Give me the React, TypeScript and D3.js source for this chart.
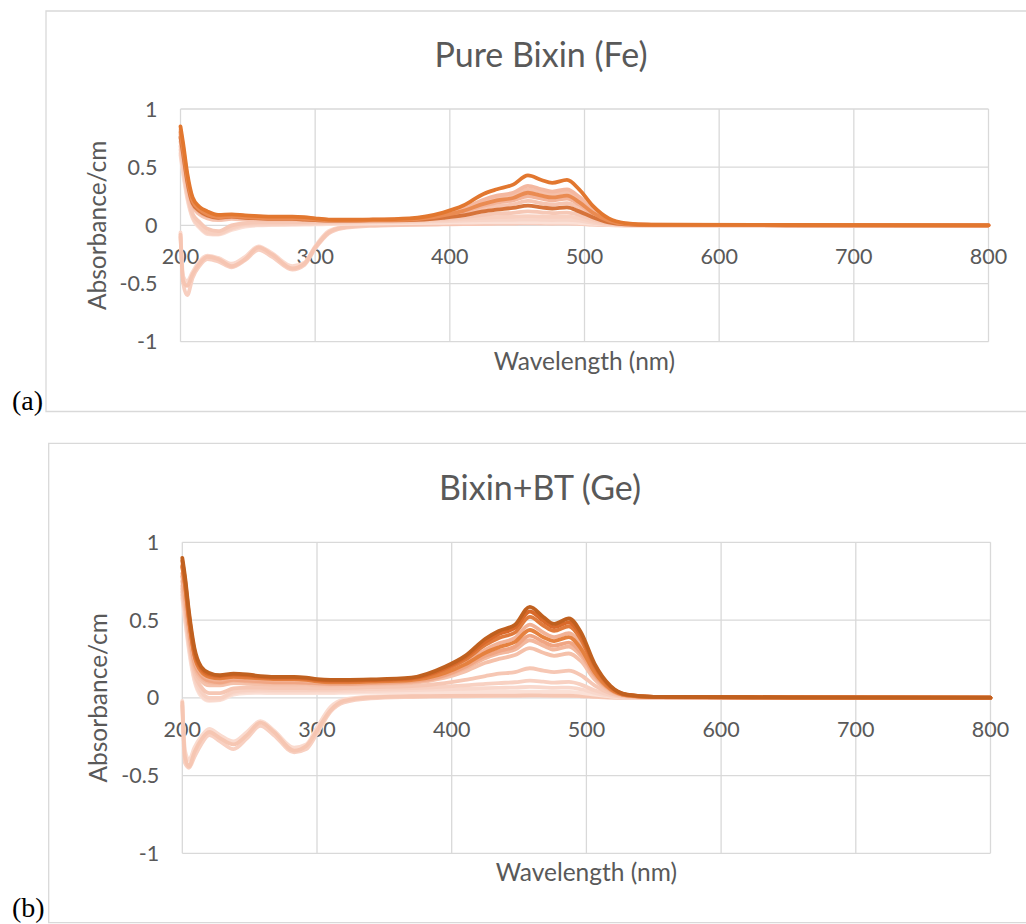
import * as d3 from "d3";

// wavelength grid shared by every series (nm)
const wavelengths = [200, 202, 205, 209, 214, 220, 228, 238, 248, 258, 268, 283, 292, 300, 310, 320, 340, 370, 395, 410, 425, 435, 447, 458, 468, 476, 487, 496, 506, 518, 530, 550, 650, 800];

const xTicks = [200, 300, 400, 500, 600, 700, 800];
const yTicks = [1, 0.5, 0, -0.5, -1];

// (a) Pure Bixin (Fe)
const a1 = [0.85, 0.7, 0.45, 0.24, 0.16, 0.12, 0.09, 0.095, 0.085, 0.08, 0.075, 0.075, 0.07, 0.06, 0.05, 0.048, 0.05, 0.06, 0.11, 0.17, 0.27, 0.31, 0.35, 0.43, 0.39, 0.365, 0.39, 0.31, 0.17, 0.06, 0.02, 0.006, 0.003, 0.0];
const a2 = [0.82, 0.67, 0.42, 0.22, 0.145, 0.11, 0.085, 0.09, 0.08, 0.075, 0.07, 0.07, 0.065, 0.055, 0.047, 0.045, 0.048, 0.055, 0.095, 0.145, 0.22, 0.255, 0.28, 0.34, 0.31, 0.29, 0.31, 0.245, 0.135, 0.05, 0.015, 0.005, 0.002, 0.0];
const a3 = [0.78, 0.63, 0.4, 0.2, 0.135, 0.1, 0.075, 0.085, 0.075, 0.07, 0.065, 0.065, 0.06, 0.052, 0.045, 0.043, 0.046, 0.052, 0.09, 0.135, 0.2, 0.235, 0.26, 0.31, 0.285, 0.265, 0.285, 0.225, 0.125, 0.045, 0.014, 0.004, 0.002, 0.0];
const a4 = [0.8, 0.65, 0.41, 0.21, 0.14, 0.095, 0.07, 0.08, 0.07, 0.065, 0.06, 0.06, 0.055, 0.05, 0.043, 0.042, 0.045, 0.05, 0.085, 0.125, 0.185, 0.215, 0.235, 0.28, 0.255, 0.24, 0.255, 0.2, 0.11, 0.04, 0.012, 0.004, 0.002, 0.0];
const a5 = [0.75, 0.6, 0.37, 0.18, 0.115, 0.08, 0.06, 0.07, 0.065, 0.06, 0.055, 0.055, 0.05, 0.047, 0.042, 0.04, 0.043, 0.048, 0.08, 0.115, 0.17, 0.195, 0.215, 0.25, 0.23, 0.215, 0.23, 0.18, 0.1, 0.035, 0.01, 0.003, 0.001, 0.0];
const a6 = [0.72, 0.57, 0.34, 0.16, 0.095, 0.06, 0.045, 0.055, 0.05, 0.048, 0.045, 0.045, 0.043, 0.04, 0.038, 0.037, 0.04, 0.045, 0.07, 0.1, 0.145, 0.165, 0.18, 0.21, 0.19, 0.18, 0.19, 0.15, 0.085, 0.03, 0.009, 0.003, 0.001, 0.0];
const a7 = [0.76, 0.61, 0.38, 0.19, 0.125, 0.085, 0.065, 0.075, 0.065, 0.06, 0.055, 0.055, 0.05, 0.045, 0.04, 0.04, 0.042, 0.045, 0.065, 0.085, 0.12, 0.135, 0.15, 0.17, 0.155, 0.145, 0.155, 0.12, 0.07, 0.025, 0.008, 0.002, 0.001, 0.0];
const a8 = [0.68, 0.52, 0.29, 0.1, 0.03, -0.03, -0.05, 0.0, 0.02, 0.025, 0.025, 0.028, 0.028, 0.03, 0.03, 0.032, 0.035, 0.04, 0.055, 0.07, 0.09, 0.1, 0.108, 0.12, 0.112, 0.105, 0.11, 0.09, 0.05, 0.018, 0.006, 0.002, 0.001, 0.0];
const a9 = [0.65, 0.49, 0.27, 0.08, 0.0, -0.06, -0.07, -0.02, 0.01, 0.015, 0.015, 0.018, 0.02, 0.022, 0.025, 0.028, 0.03, 0.035, 0.045, 0.055, 0.065, 0.07, 0.074, 0.08, 0.076, 0.072, 0.075, 0.062, 0.035, 0.012, 0.004, 0.001, 0.0, 0.0];
const a10 = [0.62, 0.46, 0.25, 0.07, -0.01, -0.07, -0.075, -0.03, 0.0, 0.005, 0.008, 0.01, 0.012, 0.015, 0.018, 0.02, 0.025, 0.03, 0.035, 0.04, 0.045, 0.047, 0.048, 0.05, 0.048, 0.046, 0.047, 0.04, 0.022, 0.008, 0.003, 0.001, 0.0, 0.0];
const a11 = [0.6, 0.44, 0.23, 0.06, -0.02, -0.075, -0.08, -0.04, -0.01, 0.0, 0.003, 0.005, 0.006, 0.008, 0.01, 0.012, 0.016, 0.02, 0.022, 0.024, 0.025, 0.025, 0.025, 0.026, 0.025, 0.024, 0.024, 0.02, 0.012, 0.005, 0.002, 0.0, 0.0, 0.0];
const an1 = [-0.08, -0.48, -0.52, -0.42, -0.33, -0.27, -0.29, -0.35, -0.29, -0.19, -0.25, -0.37, -0.33, -0.19, -0.06, -0.02, 0.0, 0.006, 0.01, 0.012, 0.015, 0.017, 0.018, 0.022, 0.02, 0.018, 0.019, 0.015, 0.008, 0.003, 0.001, 0.0, 0.0, 0.0];
const an2 = [-0.1, -0.5, -0.6, -0.45, -0.35, -0.29, -0.31, -0.36, -0.3, -0.21, -0.27, -0.38, -0.34, -0.2, -0.07, -0.025, -0.005, 0.004, 0.008, 0.01, 0.012, 0.014, 0.015, 0.018, 0.016, 0.015, 0.016, 0.012, 0.006, 0.002, 0.001, 0.0, 0.0, 0.0];
const an3 = [-0.06, -0.44, -0.48, -0.4, -0.31, -0.26, -0.28, -0.33, -0.27, -0.18, -0.24, -0.35, -0.32, -0.18, -0.05, -0.015, 0.002, 0.008, 0.012, 0.015, 0.018, 0.02, 0.022, 0.026, 0.024, 0.022, 0.023, 0.018, 0.01, 0.004, 0.001, 0.0, 0.0, 0.0];

// (b) Bixin+BT (Ge)
const b1 = [0.9, 0.78, 0.55, 0.32, 0.2, 0.16, 0.145, 0.155, 0.15, 0.14, 0.135, 0.135, 0.13, 0.12, 0.115, 0.115, 0.118, 0.13, 0.2, 0.27, 0.38, 0.43, 0.47, 0.585, 0.52, 0.475, 0.51, 0.42, 0.22, 0.075, 0.02, 0.006, 0.003, 0.001];
const b2 = [0.88, 0.76, 0.53, 0.3, 0.19, 0.15, 0.14, 0.15, 0.145, 0.135, 0.13, 0.13, 0.125, 0.115, 0.11, 0.11, 0.114, 0.125, 0.19, 0.26, 0.36, 0.41, 0.45, 0.555, 0.495, 0.455, 0.485, 0.4, 0.21, 0.07, 0.02, 0.006, 0.003, 0.001];
const b3 = [0.85, 0.73, 0.5, 0.28, 0.18, 0.14, 0.13, 0.14, 0.135, 0.13, 0.125, 0.125, 0.12, 0.11, 0.105, 0.105, 0.11, 0.12, 0.18, 0.245, 0.34, 0.385, 0.42, 0.52, 0.465, 0.43, 0.46, 0.375, 0.195, 0.065, 0.018, 0.005, 0.002, 0.001];
const b4 = [0.8, 0.68, 0.46, 0.25, 0.16, 0.125, 0.115, 0.13, 0.125, 0.12, 0.115, 0.115, 0.11, 0.104, 0.1, 0.1, 0.105, 0.115, 0.165, 0.225, 0.31, 0.35, 0.385, 0.47, 0.42, 0.39, 0.415, 0.34, 0.18, 0.06, 0.016, 0.005, 0.002, 0.001];
const b5 = [0.84, 0.72, 0.49, 0.27, 0.17, 0.135, 0.125, 0.135, 0.13, 0.125, 0.12, 0.12, 0.115, 0.106, 0.1, 0.1, 0.104, 0.114, 0.16, 0.215, 0.29, 0.325, 0.36, 0.436, 0.39, 0.365, 0.39, 0.315, 0.165, 0.055, 0.015, 0.004, 0.002, 0.001];
const b6 = [0.78, 0.66, 0.44, 0.23, 0.145, 0.11, 0.1, 0.115, 0.11, 0.105, 0.1, 0.1, 0.098, 0.094, 0.09, 0.09, 0.095, 0.105, 0.145, 0.2, 0.27, 0.3, 0.33, 0.4, 0.36, 0.335, 0.355, 0.29, 0.15, 0.05, 0.014, 0.004, 0.002, 0.001];
const b7 = [0.75, 0.63, 0.42, 0.21, 0.13, 0.1, 0.095, 0.11, 0.105, 0.1, 0.097, 0.097, 0.095, 0.09, 0.087, 0.088, 0.092, 0.1, 0.14, 0.19, 0.255, 0.285, 0.31, 0.37, 0.335, 0.31, 0.33, 0.27, 0.14, 0.047, 0.013, 0.004, 0.002, 0.001];
const b8 = [0.72, 0.6, 0.39, 0.19, 0.11, 0.08, 0.08, 0.095, 0.09, 0.088, 0.085, 0.085, 0.083, 0.08, 0.078, 0.08, 0.085, 0.095, 0.13, 0.17, 0.225, 0.25, 0.275, 0.32, 0.29, 0.27, 0.285, 0.235, 0.12, 0.04, 0.011, 0.003, 0.001, 0.0];
const b9 = [0.7, 0.57, 0.36, 0.16, 0.07, 0.03, 0.03, 0.06, 0.065, 0.065, 0.063, 0.063, 0.062, 0.06, 0.06, 0.062, 0.068, 0.075, 0.095, 0.115, 0.14, 0.155, 0.165, 0.19, 0.175, 0.165, 0.175, 0.145, 0.08, 0.028, 0.008, 0.002, 0.001, 0.0];
const b10 = [0.68, 0.55, 0.34, 0.14, 0.04, 0.0, 0.0, 0.04, 0.05, 0.052, 0.05, 0.05, 0.05, 0.05, 0.05, 0.052, 0.056, 0.062, 0.072, 0.08, 0.09, 0.095, 0.1, 0.11, 0.104, 0.098, 0.102, 0.085, 0.048, 0.017, 0.005, 0.001, 0.0, 0.0];
const b11 = [0.66, 0.52, 0.32, 0.12, 0.02, -0.015, -0.01, 0.03, 0.04, 0.042, 0.04, 0.04, 0.04, 0.04, 0.04, 0.042, 0.045, 0.05, 0.055, 0.058, 0.062, 0.064, 0.066, 0.07, 0.067, 0.064, 0.066, 0.055, 0.032, 0.012, 0.004, 0.001, 0.0, 0.0];
const b12 = [0.64, 0.5, 0.3, 0.11, 0.01, -0.02, -0.015, 0.02, 0.03, 0.032, 0.03, 0.03, 0.03, 0.03, 0.03, 0.032, 0.034, 0.036, 0.037, 0.038, 0.039, 0.039, 0.039, 0.04, 0.039, 0.038, 0.038, 0.032, 0.02, 0.008, 0.003, 0.001, 0.0, 0.0];
const bn1 = [-0.03, -0.38, -0.44, -0.35, -0.27, -0.22, -0.26, -0.3, -0.24, -0.16, -0.22, -0.34, -0.31, -0.21, -0.08, -0.02, 0.003, 0.01, 0.012, 0.014, 0.015, 0.016, 0.016, 0.018, 0.017, 0.016, 0.016, 0.013, 0.008, 0.003, 0.001, 0.0, 0.0, 0.0];
const bn2 = [-0.05, -0.42, -0.45, -0.38, -0.3, -0.24, -0.28, -0.33, -0.26, -0.18, -0.24, -0.35, -0.33, -0.23, -0.09, -0.03, -0.004, 0.005, 0.008, 0.01, 0.011, 0.012, 0.012, 0.014, 0.013, 0.012, 0.012, 0.01, 0.006, 0.002, 0.001, 0.0, 0.0, 0.0];
const bn3 = [-0.02, -0.34, -0.4, -0.32, -0.25, -0.2, -0.24, -0.28, -0.22, -0.15, -0.21, -0.32, -0.3, -0.19, -0.06, -0.01, 0.008, 0.015, 0.02, 0.024, 0.026, 0.028, 0.03, 0.034, 0.031, 0.029, 0.03, 0.025, 0.014, 0.005, 0.002, 0.0, 0.0, 0.0];

// drawn in this order, palest first so the dark ones sit on top
const seriesA = [an3, an2, an1, a11, a10, a9, a8, a6, a5, a3, a2, a7, a4, a1];
const colorsA = ["#fad9cd", "#f8cfc0", "#f6c5b2", "#fbe0d6", "#f8d5c8", "#f8d0c0", "#f6c8b6", "#f6c4b0", "#f3b49a", "#f5c0aa", "#f4b8a0", "#d6733a", "#ea8b52", "#e2772f"];

const seriesB = [bn3, bn2, bn1, b12, b11, b10, b9, b8, b7, b6, b4, b5, b3, b2, b1];
const colorsB = ["#fadbcf", "#f8d0c1", "#f6c6b2", "#fbe1d7", "#f9d8cc", "#f8d1c2", "#f6c7b4", "#f5c1aa", "#f3b79c", "#f0a583", "#f2b296", "#e5813f", "#e07a3c", "#d9692a", "#c0601f"];

const FONT = "Lato, 'Noto Sans', sans-serif";
const GRID = "#d9d9d9";
const TEXT = "#595959";

function Panel({ frame, plot, title, titleX, titleY, tag, tagY, series, colors }) {
  const x = d3.scaleLinear().domain([200, 800]).range([plot.left, plot.right]);
  const y = d3.scaleLinear().domain([-1, 1]).range([plot.bottom, plot.top]);
  const line = d3.line<number>()
    .x((_, i) => x(wavelengths[i]))
    .y(d => y(d))
    .curve(d3.curveMonotoneX);
  const midY = (plot.top + plot.bottom) / 2;
  const midX = (plot.left + plot.right) / 2;

  return (
    <g>
      <path d={`M${frame.right},${frame.top}H${frame.left}V${frame.bottom}H${frame.right}`}
        fill="none" stroke={GRID} strokeWidth={1.3} />
      {yTicks.map(t => (
        <line key={"h" + t} x1={plot.left} x2={plot.right} y1={y(t)} y2={y(t)} stroke={GRID} strokeWidth={1.3} />
      ))}
      {xTicks.map(t => (
        <line key={"v" + t} x1={x(t)} x2={x(t)} y1={plot.top} y2={plot.bottom} stroke={GRID} strokeWidth={1.3} />
      ))}
      <text x={titleX} y={titleY} textAnchor="middle" fontFamily={FONT} fontSize={34} fill={TEXT}>{title}</text>
      {yTicks.map(t => (
        <text key={"yl" + t} x={plot.left - 23} y={y(t) + 7.5} textAnchor="end" fontFamily={FONT} fontSize={21.5} fill={TEXT}>{t}</text>
      ))}
      {xTicks.map(t => (
        <text key={"xl" + t} x={x(t)} y={y(0) + 39} textAnchor="middle" fontFamily={FONT} fontSize={21.5} fill={TEXT}>{t}</text>
      ))}
      <text x={midX} y={plot.bottom + 28} textAnchor="middle" fontFamily={FONT} fontSize={24.5} fill={TEXT}>Wavelength (nm)</text>
      <text transform={`translate(${plot.left - 75},${midY}) rotate(-90)`} textAnchor="middle" fontFamily={FONT} fontSize={24.5} fill={TEXT}>Absorbance/cm</text>
      {series.map((s, i) => (
        <path key={"s" + i} d={line(s)} fill="none" stroke={colors[i]} strokeWidth={3.8} strokeLinejoin="round" strokeLinecap="round" />
      ))}
      <text x={12} y={tagY} fontFamily="'Liberation Serif', 'Times New Roman', serif" fontSize={28} fill="#000">{tag}</text>
    </g>
  );
}

export default function App() {
  return (
    <>
      <style>{"body{margin:0}"}</style>
      <svg width={1026} height={924} style={{ display: "block", background: "#fff" }}>
        <Panel
          frame={{ left: 46, top: 11, bottom: 411.5, right: 1040 }}
          plot={{ left: 180.5, right: 988.5, top: 109, bottom: 341.7 }}
          title="Pure Bixin (Fe)" titleX={541} titleY={67}
          tag="(a)" tagY={410}
          series={seriesA} colors={colorsA}
        />
        <Panel
          frame={{ left: 48.7, top: 443.3, bottom: 922.7, right: 1040 }}
          plot={{ left: 182.3, right: 990.5, top: 542.3, bottom: 853.3 }}
          title="Bixin+BT (Ge)" titleX={540} titleY={500}
          tag="(b)" tagY={917}
          series={seriesB} colors={colorsB}
        />
      </svg>
    </>
  );
}
